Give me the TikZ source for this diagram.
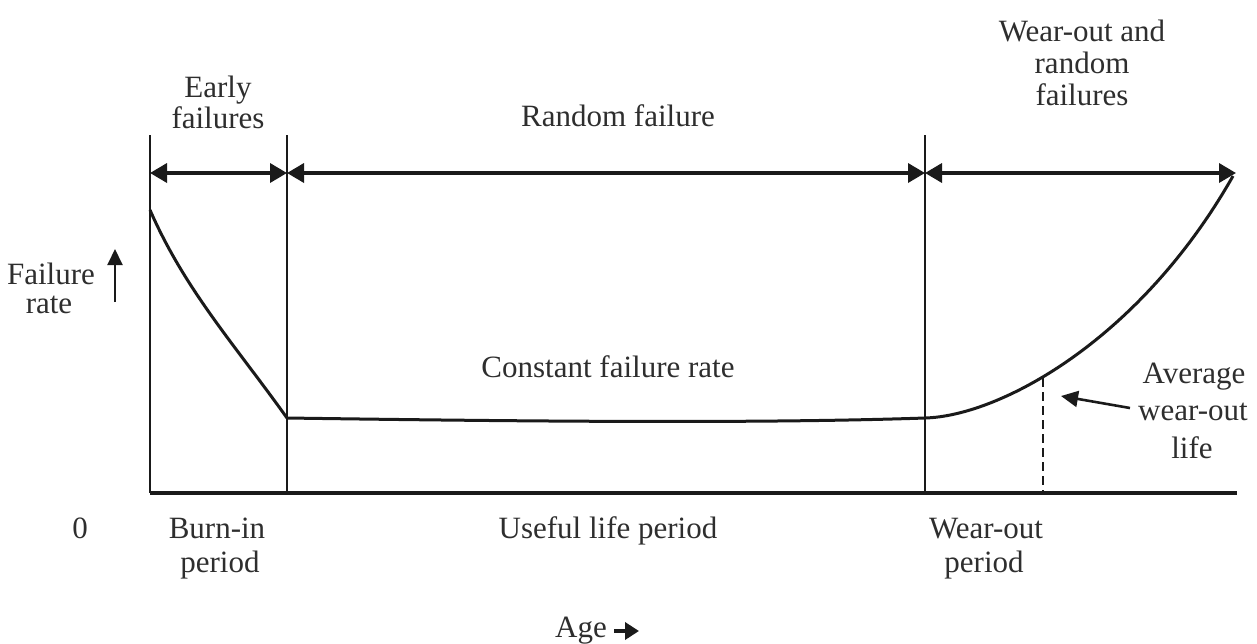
\documentclass[tikz,border=0pt]{standalone}
\usepackage{fontspec}
\setmainfont{Liberation Serif}
\usetikzlibrary{arrows.meta}
\definecolor{ink}{HTML}{1A1A1A}
\definecolor{txt}{HTML}{2E2E2E}
\begin{document}
\begin{tikzpicture}[x=1pt,y=-1pt,
  lbl/.style={anchor=base,inner sep=0pt,text=txt,font=\fontsize{31}{36}\selectfont},
  guide/.style={draw=ink,line width=2.2pt},
  span/.style={draw=ink,line width=3.5pt,{Triangle[length=17pt,width=19pt]}-{Triangle[length=17pt,width=19pt]}},
  curve/.style={draw=ink,line width=3pt},
  pointer/.style={draw=ink,line width=2.6pt,-{Triangle[length=17pt,width=16pt]}}]
\useasboundingbox (0,0) rectangle (1257,643);

% frame coordinates
\coordinate (o) at (150,493);
\coordinate (xend) at (1237,493);
\coordinate (ytop) at (150,135);
\coordinate (b1) at (287,135);
\coordinate (b1b) at (287,493);
\coordinate (b2) at (925,135);
\coordinate (b2b) at (925,493);

% axes and period boundaries
\draw[guide] (ytop) -- (o);
\draw[guide] (b1) -- (b1b);
\draw[guide] (b2) -- (b2b);
\draw[draw=ink,line width=3.5pt] (o) -- (xend);

% period spans
\coordinate (s0) at (150,173);
\coordinate (s1) at (287,173);
\coordinate (s2) at (925,173);
\coordinate (s3) at (1236,173);
\draw[span] (s0) -- (s1);
\draw[span] (s1) -- (s2);
\draw[span] (s2) -- (s3);

% bathtub curve
\coordinate (c0) at (150,210);
\coordinate (c1) at (287,418);
\coordinate (c2) at (925,418);
\coordinate (c3) at (1233,176);
\draw[curve,line join=round] (c0) .. controls (185,290) and (235,345) .. (c1)
  .. controls (500,421) and (750,424) .. (c2)
  .. controls (1000,416) and (1140,340) .. (c3);

% average wear-out life
\coordinate (w0) at (1043,378);
\coordinate (w1) at (1043,493);
\draw[draw=ink,line width=2.4pt,dash pattern=on 9pt off 5pt] (w0) -- (w1);
\coordinate (pt) at (1130,408);
\coordinate (ph) at (1061,396);
\draw[pointer] (pt) -- (ph);

% labels above
\node[lbl] (early1) at (218,97) {Early};
\node[lbl] (early2) at (218,128) {failures};
\node[lbl] (rand) at (618,126) {Random failure};
\node[lbl] (wo1) at (1082,41) {Wear-out and};
\node[lbl] (wo2) at (1082,73) {random};
\node[lbl] (wo3) at (1082,105) {failures};

% y label and arrow
\node[lbl] (fr1) at (51,284) {Failure};
\node[lbl] (fr2) at (49,313) {rate};
\coordinate (ya0) at (115,302);
\coordinate (ya1) at (115,249);
\draw[draw=ink,line width=2pt,-{Triangle[length=16pt,width=15pt]}] (ya0) -- (ya1);

% inner labels
\node[lbl] (cfr) at (608,377) {Constant failure rate};
\node[lbl] (av1) at (1194,383) {Average};
\node[lbl] (av2) at (1193,420) {wear-out};
\node[lbl] (av3) at (1192,458) {life};

% labels below
\node[lbl] (zero) at (80,538) {0};
\node[lbl] (bi1) at (217,538) {Burn-in};
\node[lbl] (bi2) at (220,572) {period};
\node[lbl] (ul) at (608,538) {Useful life period};
\node[lbl] (wp1) at (986,538) {Wear-out};
\node[lbl] (wp2) at (984,572) {period};
\node[lbl] (age) at (581,637) {Age};
\coordinate (aa0) at (614,631);
\coordinate (aa1) at (639,631);
\draw[draw=ink,line width=3.5pt,-{Triangle[length=14pt,width=17pt]}] (aa0) -- (aa1);
\end{tikzpicture}
\end{document}
